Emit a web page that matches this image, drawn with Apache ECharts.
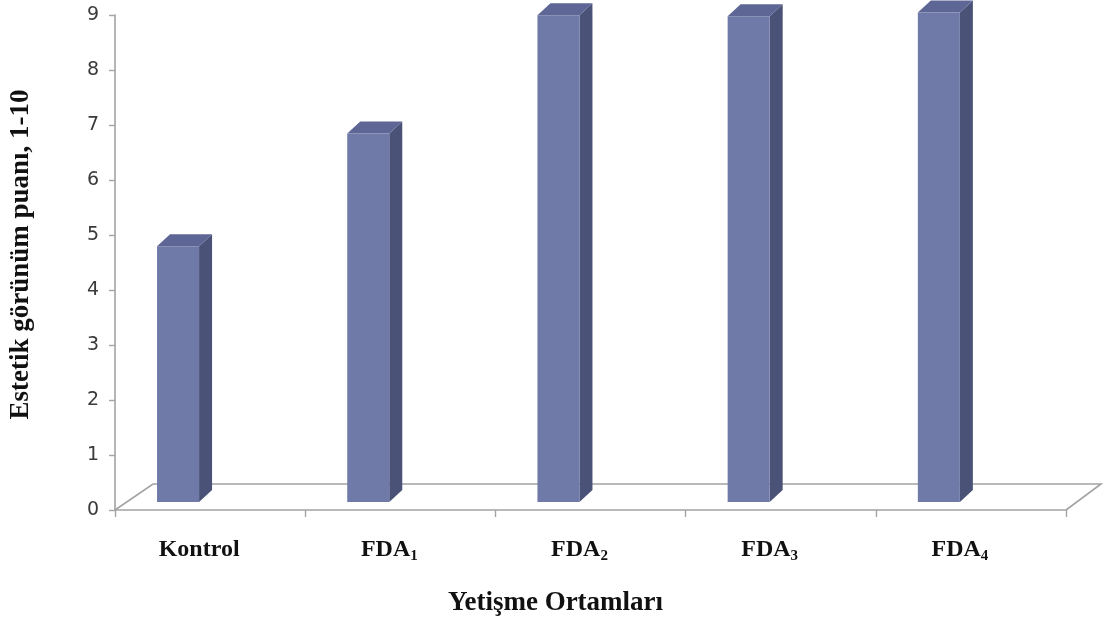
<!DOCTYPE html>
<html>
<head>
<meta charset="utf-8">
<script src="https://cdn.jsdelivr.net/npm/echarts@6/dist/echarts.min.js"></script>
<style>
  html, body { margin: 0; padding: 0; background: #ffffff; }
  #chart { width: 1107px; height: 625px; }
</style>
</head>
<body>
<div id="chart"></div>
<script>
// Growing media and their aesthetic appearance score (1-10)
const categories = ['Kontrol', 'FDA1', 'FDA2', 'FDA3', 'FDA4'];
const scores = [4.65, 6.7, 8.85, 8.83, 8.9];
const yTicks = [0, 1, 2, 3, 4, 5, 6, 7, 8, 9];

const AXIS_GREY = '#a3a3a3';
const FRONT = '#6f7aa8';
const SIDE = '#4a5277';
const TOP = '#5d6694';

// Column prism: front face, right side face and top face
function renderColumn(params, api) {
  const idx = api.value(0);
  const val = api.value(1);
  const base = api.coord([idx, 0]);
  const top = api.coord([idx, val]);
  const band = api.size([1, 0])[0];
  const lift = 8;          // columns stand a little behind the front edge
  const dx = 13, dy = -12; // column depth
  const xl = base[0] - band * 0.279;
  const xr = xl + band * 0.221;
  const yb = base[1] - lift;
  const yt = top[1] - lift;
  return {
    type: 'group',
    children: [
      { type: 'polygon', shape: { points: [[xr, yb], [xr, yt], [xr + dx, yt + dy], [xr + dx, yb + dy]] },
        style: { fill: SIDE } },
      { type: 'polygon', shape: { points: [[xl, yt], [xr, yt], [xr + dx, yt + dy], [xl + dx, yt + dy]] },
        style: { fill: TOP } },
      { type: 'rect', shape: { x: xl, y: yt, width: xr - xl, height: yb - yt },
        style: { fill: FRONT } }
    ]
  };
}

// Floor outline behind the category axis
function renderFloor(params, api) {
  const first = api.coord([0, 0]);
  const last = api.coord([categories.length - 1, 0]);
  const band = api.size([1, 0])[0];
  const x0 = first[0] - band / 2, x1 = last[0] + band / 2, y0 = first[1];
  const fx = 38, fy = -26;
  return {
    type: 'polyline',
    shape: { points: [[x0, y0], [x0 + fx, y0 + fy], [x1 + fx - 3, y0 + fy], [x1, y0]] },
    style: { stroke: AXIS_GREY, lineWidth: 1.6, fill: null }
  };
}

const chart = echarts.init(document.getElementById('chart'));
chart.setOption({
  animation: false,
  backgroundColor: '#ffffff',
  grid: { left: 114, right: 41, top: 15, bottom: 115, containLabel: false },
  xAxis: {
    type: 'category',
    data: categories,
    boundaryGap: true,
    axisLine: { lineStyle: { color: AXIS_GREY, width: 1.6 } },
    axisTick: { show: true, length: 7, lineStyle: { color: AXIS_GREY, width: 1.4 } },
    axisLabel: {
      margin: 26,
      padding: [0, 22, 0, 0],
      formatter: function (v) {
        const m = v.match(/^(\D+)(\d+)$/);
        return m ? '{b|' + m[1] + '}{s|' + m[2] + '}' : '{b|' + v + '}';
      },
      rich: {
        b: { fontFamily: 'Liberation Serif', fontWeight: 'bold', fontSize: 24, color: '#111', lineHeight: 26, verticalAlign: 'bottom' },
        s: { fontFamily: 'Liberation Serif', fontWeight: 'bold', fontSize: 15, color: '#111', lineHeight: 26, verticalAlign: 'bottom', padding: [0, 0, -2, 0] }
      }
    },
    name: 'Yetişme Ortamları',
    nameLocation: 'middle',
    nameGap: 80,
    nameTextStyle: { fontFamily: 'Liberation Serif', fontWeight: 'bold', fontSize: 27, color: '#111', padding: [0, 70, 0, 0] },
    splitLine: { show: false }
  },
  yAxis: {
    type: 'value',
    min: yTicks[0],
    max: yTicks[yTicks.length - 1],
    interval: 1,
    axisLine: { show: true, lineStyle: { color: AXIS_GREY, width: 1.6 } },
    axisTick: { show: true, length: 6, lineStyle: { color: AXIS_GREY, width: 1.4 } },
    axisLabel: { margin: 16, fontFamily: 'DejaVu Sans', fontSize: 19, color: '#3a3a3a' },
    splitLine: { show: false },
    name: 'Estetik görünüm puanı, 1-10',
    nameLocation: 'middle',
    nameRotate: 90,
    nameGap: 80,
    nameTextStyle: { fontFamily: 'Liberation Serif', fontWeight: 'bold', fontSize: 27, color: '#111', padding: [0, 0, 0, 16] }
  },
  series: [
    {
      type: 'custom',
      name: 'floor',
      renderItem: renderFloor,
      data: [[0, 0]],
      z: 1,
      silent: true
    },
    {
      type: 'custom',
      name: 'Estetik görünüm puanı',
      renderItem: renderColumn,
      encode: { x: 0, y: 1 },
      data: scores.map((v, i) => [i, v]),
      z: 3
    }
  ]
});
</script>
</body>
</html>
